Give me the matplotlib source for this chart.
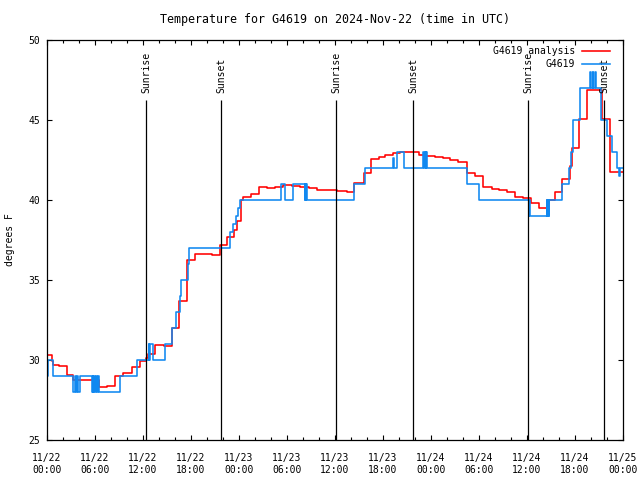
import matplotlib
matplotlib.use("Agg")
import matplotlib.pyplot as plt
from matplotlib.ticker import FixedLocator, MultipleLocator

# hours since 2024-11-22 00:00 UTC, value takes effect at that time (step post)
red_t = [0.0, 0.6, 0.75, 1.5, 2.5, 3.25, 6.5, 7.5, 8.5, 9.5, 10.6, 11.6, 12.4, 12.6,
         13.5, 14.6, 15.6, 16.5, 17.5, 18.5, 20.6, 21.6, 22.5, 23.4, 23.7, 24.3, 24.5,
         25.5, 26.5, 27.5, 28.5, 29.5, 30.6, 31.6, 32.7, 33.7, 36.2, 37.5, 38.4, 39.6,
         40.5, 41.5, 42.3, 43.2, 44.1, 45.0, 46.5, 47.3, 48.5, 49.5, 50.4, 51.4, 52.5,
         53.5, 54.5, 55.6, 56.5, 57.5, 58.5, 59.5, 60.5, 61.5, 62.5, 63.5, 64.4, 65.4,
         65.6, 66.5, 67.5, 69.4, 70.4, 72.0]
red_v = [30.3, 29.95, 29.7, 29.6, 29.05, 28.75, 28.3, 28.4, 29.0, 29.2, 29.55, 29.95, 30.1, 30.4,
         30.95, 30.85, 32.0, 33.7, 36.25, 36.6, 36.55, 37.2, 37.7, 38.1, 38.7, 40.0, 40.17,
         40.38, 40.79, 40.73, 40.83, 40.94, 40.88, 40.83, 40.73, 40.62, 40.58, 40.52, 41.04, 41.67,
         42.54, 42.7, 42.8, 42.92, 43.0, 43.02, 42.8, 42.77, 42.7, 42.6, 42.5, 42.4, 41.67,
         41.5, 40.83, 40.69, 40.6, 40.48, 40.2, 40.1, 39.8, 39.48, 40.0, 40.5, 41.3, 42.1,
         43.25, 45.06, 46.9, 45.06, 41.73, 41.73]

blue_t = [0.0, 0.05, 0.15, 0.8, 3.3, 3.55, 3.62, 3.75, 3.82, 4.1, 5.6, 5.7, 5.8, 5.9, 6.0,
          6.15, 6.3, 6.4, 6.5, 9.1, 11.2, 12.7, 12.8, 12.9, 13.3, 14.75, 15.6, 16.1, 16.6,
          16.8, 17.6, 17.8, 22.9, 23.3, 23.6, 23.9, 24.1, 29.25, 29.8, 30.7, 32.25, 32.3,
          32.35, 32.42, 32.5, 38.4, 39.7, 43.2, 43.35, 43.7, 44.6, 47.0, 47.1, 47.2, 47.35,
          47.42, 47.5, 52.5, 54.0, 60.2, 60.3, 60.4, 62.5, 62.55, 62.65, 62.7, 62.8, 64.4,
          65.3, 65.5, 65.8, 66.6, 67.9, 68.0, 68.2, 68.3, 68.5, 68.6, 69.3, 69.95, 70.6,
          71.2, 71.5, 71.6, 72.0]
blue_v = [30, 29, 30, 29, 28, 29, 28, 29, 28, 29, 28, 29, 28, 29, 28,
          29, 28, 29, 28, 29, 30, 31, 30, 31, 30, 31, 32, 33, 34,
          35, 36, 37, 38, 38.5, 39, 39.5, 40, 41, 40, 41, 40, 41,
          40, 41, 40, 41, 42, 42.6, 42, 43, 42, 43, 42, 43, 42,
          43, 42, 41, 40, 39, 40, 39, 40, 39, 40, 39, 40, 41,
          42, 43, 45, 47, 48, 47, 48, 47, 48, 47, 45, 44, 43,
          42, 41.5, 42, 42]

sun_t = [12.375, 21.75, 36.125, 45.75, 60.125, 69.625]
sun_label = ["Sunrise", "Sunset", "Sunrise", "Sunset", "Sunrise", "Sunset"]

xtick_pos = [0, 6, 12, 18, 24, 30, 36, 42, 48, 54, 60, 66, 72]
xtick_lab = ["11/22\n00:00", "11/22\n06:00", "11/22\n12:00", "11/22\n18:00",
             "11/23\n00:00", "11/23\n06:00", "11/23\n12:00", "11/23\n18:00",
             "11/24\n00:00", "11/24\n06:00", "11/24\n12:00", "11/24\n18:00",
             "11/25\n00:00"]

plt.rcParams["font.family"] = "DejaVu Sans Mono"
plt.rcParams["font.size"] = 7

fig = plt.figure(figsize=(6.4, 4.8), dpi=100)
ax = fig.add_axes([47 / 640, 40 / 480, 576 / 640, 400 / 480])

ax.step(red_t, red_v, where="post", color="#ff0000", lw=1.15, label="G4619 analysis")
ax.step(blue_t, blue_v, where="post", color="#1088f0", lw=1.15, label="G4619")

ax.vlines(sun_t, 25, 46.25, color="black", lw=0.9)
for t, lab in zip(sun_t, sun_label):
    ax.text(t, 46.7, lab, rotation=90, ha="center", va="bottom")

ax.set_xlim(0, 72)
ax.set_ylim(25, 50)
ax.xaxis.set_major_locator(FixedLocator(xtick_pos))
ax.set_xticklabels(xtick_lab, linespacing=1.3)
ax.xaxis.set_minor_locator(MultipleLocator(2))
ax.yaxis.set_major_locator(MultipleLocator(5))
ax.tick_params(which="both", direction="in", top=True, right=True, width=0.8)
ax.tick_params(which="major", length=3.5)
ax.tick_params(which="minor", length=2)
ax.tick_params(axis="x", pad=9)
ax.tick_params(axis="y", pad=5)
for sp in ax.spines.values():
    sp.set_linewidth(0.9)

ax.set_title("Temperature for G4619 on 2024-Nov-22 (time in UTC)", pad=12)
fig.text(10 / 640, 0.5, "degrees F", rotation=90, ha="center", va="center")

ax.legend(loc="upper right", bbox_to_anchor=(0.977, 0.985), frameon=False,
          markerfirst=False, handlelength=2.9, handletextpad=0.7,
          labelspacing=0.35, borderpad=0, borderaxespad=0)

fig.savefig("out.png", dpi=100)
